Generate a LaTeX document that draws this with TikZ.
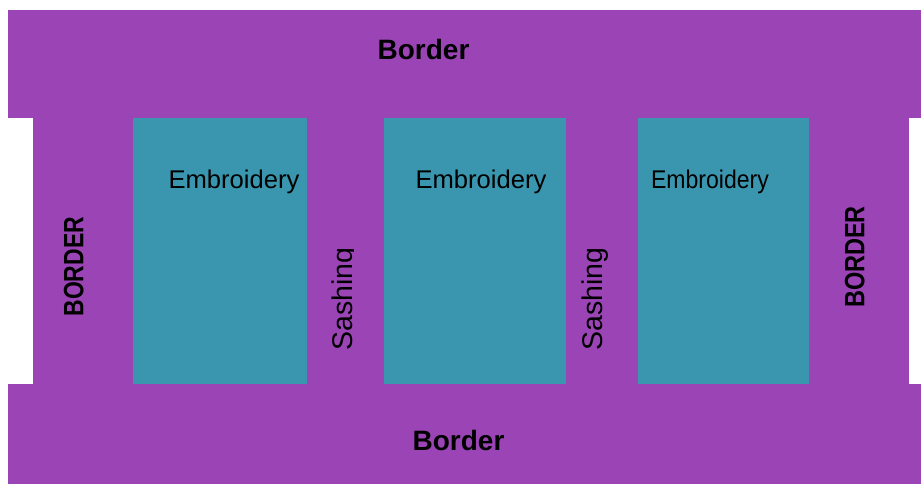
\documentclass[tikz,border=0pt]{standalone}
\usepackage{fontspec}
\setmainfont{Liberation Sans}
\definecolor{quiltpurple}{HTML}{9B44B6}
\definecolor{quiltteal}{HTML}{3A96AF}
\begin{document}
\begin{tikzpicture}[x=1pt,y=-1pt,
  lbl/.style={inner sep=0pt, text=black},
  boldlbl/.style={lbl, font=\bfseries\fontsize{28}{30}\selectfont},
  emblbl/.style={lbl, font=\fontsize{25.6}{28}\selectfont},
  sashlbl/.style={lbl, font=\fontsize{28.5}{30}\selectfont, rotate=90, anchor=base west}]
\useasboundingbox (0,0) rectangle (921,484);
% purple frame
\fill[quiltpurple] (8,10) rectangle (921,118);
\fill[quiltpurple] (33,117) rectangle (909,385);
\fill[quiltpurple] (8,384) rectangle (921,484);
% embroidery panels
\fill[quiltteal] (133,118) rectangle (307,384);
\fill[quiltteal] (384,118) rectangle (566,384);
\fill[quiltteal] (638,118) rectangle (809,384);
% labels
\node[boldlbl, anchor=base] (btop) at (423.5,60) {Border};
\node[boldlbl, anchor=base] (bbot) at (458.5,450) {Border};
\node[boldlbl, anchor=base, rotate=90, xscale=0.82] (bleft) at (83.3,266.7) {BORDER};
\node[boldlbl, anchor=base, rotate=90, xscale=0.84] (bright) at (864.3,257) {BORDER};
\node[emblbl, anchor=base] (e1) at (234,188.3) {Embroidery};
\node[emblbl, anchor=base] (e2) at (481,188.8) {Embroidery};
\node[emblbl, anchor=base, xscale=0.9] (e3) at (710,188.3) {Embroidery};
\begin{scope}
\clip (307,118) rectangle (353.4,384);
\node[sashlbl] (s1) at (352.6,350.5) {Sashing};
\end{scope}
\node[sashlbl] (s2) at (602.6,350.5) {Sashing};
\end{tikzpicture}
\end{document}
